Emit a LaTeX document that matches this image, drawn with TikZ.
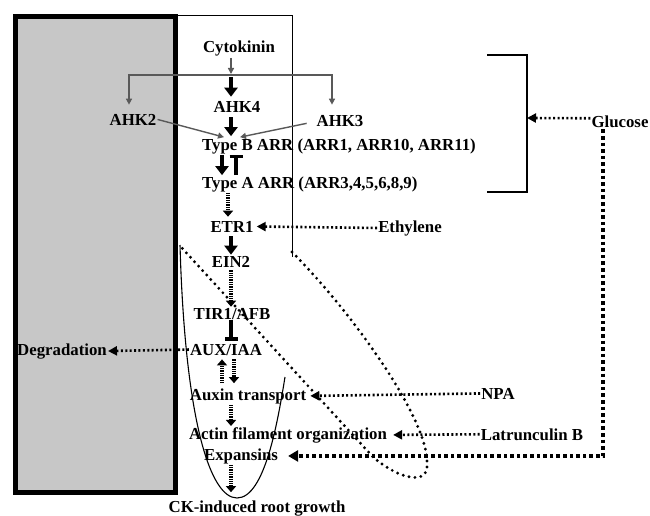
\documentclass[tikz,border=0pt]{standalone}
\usepackage{fontspec}
\setmainfont{Liberation Serif}
\usetikzlibrary{arrows.meta,calc}
\begin{document}
\begin{tikzpicture}[x=1pt,y=-1pt,
 lbl/.style={font=\fontsize{16.8}{19}\selectfont\bfseries, inner sep=1pt, anchor=base},
 thk/.style={line width=4.5pt,-{Triangle[width=13pt,length=9pt]}},
 inh/.style={line width=4.5pt,-{Bar[width=13pt,line width=3.5pt]}},
 stripe/.style={line width=4pt,dash pattern=on 1.3pt off 1pt,-{Triangle[width=10pt,length=6pt]}},
 gry/.style={draw=black!65,line width=1.4pt},
 gryarr/.style={gry,-{Triangle[width=6pt,length=6pt]}},
 dotarr/.style={line width=2.6pt,dash pattern=on 2pt off 2.4pt,-{Triangle[width=9pt,length=9pt]}},
 heavydot/.style={line width=3.6pt,dash pattern=on 3.6pt off 3pt,-{Triangle[width=11pt,length=10pt]}},
 loopdot/.style={line width=3.2pt,line cap=round,dash pattern=on 0pt off 6pt},
 ]
\useasboundingbox (0,0) rectangle (650,516);
% grey box and frame
\fill[black!22] (13,14) rectangle (178,495);
\draw[line width=5pt] (15.5,16.5) rectangle (175.5,492.5);
\draw[line width=1pt] (178,15.5) -- (292,15.5) -- (292,257);
% bracket
\draw[line width=1.6pt] (487,55) -- (527,55) -- (527,192) -- (487,192);
\coordinate (brk) at (527,118);
% loops
\draw[loopdot] (292,252) .. controls (350,310) and (430,420) .. (427,465)
  .. controls (428,485) and (400,480) .. (373,457) -- (182,248);
\draw[line width=1.1pt] (180,245) .. controls (185,420) and (210,498) .. (237,498)
  .. controls (265,498) and (278,420) .. (285,377);
% labels
\node[lbl] (cyt) at (239,53) {Cytokinin};
\node[lbl] (ahk4) at (237,113) {AHK4};
\node[lbl] (ahk2) at (133,125) {AHK2};
\node[lbl] (ahk3) at (340,127) {AHK3};
\node[lbl,anchor=base west] (typeb) at (201,150) {Type B ARR (ARR1, ARR10, ARR11)};
\node[lbl,anchor=base west] (typea) at (201,188) {Type A ARR (ARR3,4,5,6,8,9)};
\node[lbl] (etr1) at (232,232) {ETR1};
\node[lbl] (ein2) at (231,267) {EIN2};
\node[lbl] (tir1) at (232,319) {TIR1/AFB};
\node[lbl] (aux) at (226,355) {AUX/IAA};
\node[lbl] (deg) at (62,355) {Degradation};
\node[lbl] (auxt) at (248,400) {Auxin transport};
\node[lbl] (actin) at (288,439) {Actin filament organization};
\node[lbl] (exp) at (241,460) {Expansins};
\node[lbl] (ck) at (257,512) {CK-induced root growth};
\node[lbl] (glu) at (620,128) {Glucose};
\node[lbl] (eth) at (410,232) {Ethylene};
\node[lbl] (npa) at (498,399) {NPA};
\node[lbl] (lat) at (532,440) {Latrunculin B};
% columns
\coordinate (c0) at (231,0);
\coordinate (hl) at (231,75);
\coordinate (cL) at (224,0);
\coordinate (cR) at (240,0);
\coordinate (cA) at (222,0);
\coordinate (cB) at (236,0);
\coordinate (cS) at (228,0);
\coordinate (cD) at (234,0);
% cytokinin receptors
\draw[gryarr,shorten >=1pt] (c0 |- cyt.south) -- (hl);
\draw[gryarr,shorten >=8pt] (hl) -| ([xshift=-4pt]ahk2.north);
\draw[gryarr,shorten >=10pt] (hl) -| ([xshift=-8pt]ahk3.north);
\draw[thk,shorten <=2pt,shorten >=4pt] (hl) -- (c0 |- ahk4.north);
\draw[thk,shorten <=3pt,shorten >=1pt] (c0 |- ahk4.south) -- (c0 |- typeb.north);
\draw[gryarr] (ahk2.east) -- (cL |- typeb.north);
\draw[gryarr,shorten <=9pt] (ahk3.west) -- (cR |- typeb.north);
% ARR loop
\draw[thk] (cA |- typeb.south) -- (cA |- typea.north);
\draw[inh] (cB |- typea.north) -- (cB |- typeb.south);
% main chain
\draw[stripe,shorten >=3pt] (cS |- typea.south) -- (cS |- etr1.north);
\draw[thk,shorten <=3pt] (c0 |- etr1.south) -- (c0 |- ein2.north);
\draw[stripe,shorten <=2pt] (c0 |- ein2.south) -- (c0 |- tir1.north);
\draw[inh,shorten >=2pt] (c0 |- tir1.south) -- (c0 |- aux.north);
\draw[stripe,shorten <=3pt,shorten >=4pt] (cD |- aux.south) -- (cD |- auxt.north);
\draw[stripe,shorten <=4pt,shorten >=3pt] (cA |- auxt.north) -- (cA |- aux.south);
\draw[stripe] (c0 |- auxt.south) -- (c0 |- actin.north);
\draw[stripe,shorten >=7pt] (c0 |- exp.south) -- (c0 |- ck.north);
% external inputs
\draw[dotarr,shorten >=2pt] (eth.west) -- (etr1.east);
\draw[dotarr] (aux.west) -- (deg.east);
\draw[dotarr,shorten >=3pt] (npa.west) -- (auxt.east);
\draw[dotarr,shorten >=5pt] (lat.west) -- (actin.east);
\draw[dotarr] ([yshift=4pt]glu.west) -- (brk);
\draw[heavydot,shorten >=9pt] ([xshift=-17pt]glu.south) |- (exp.east);
\end{tikzpicture}
\end{document}
